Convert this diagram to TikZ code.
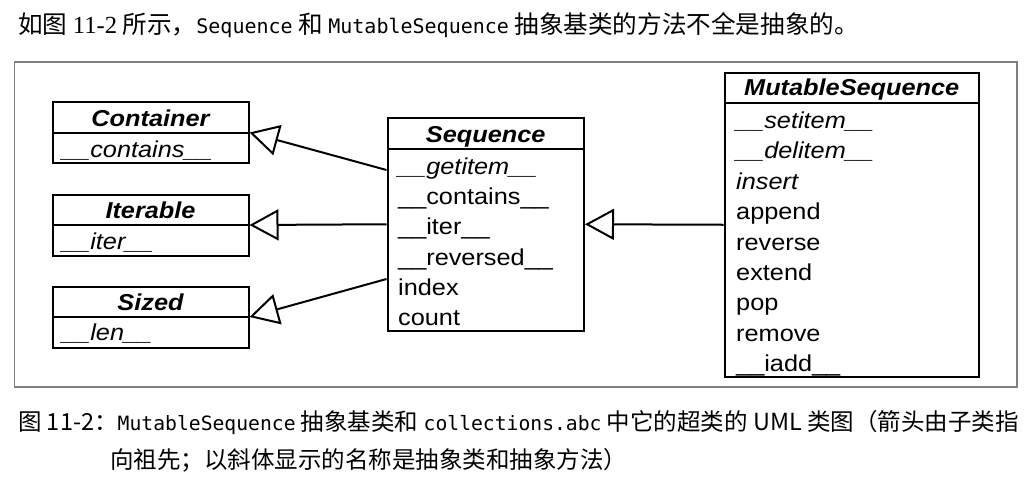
\documentclass[tikz,border=0pt]{standalone}
\usepackage{fontspec}
\setmainfont{Liberation Sans}
\newfontfamily\uml[FakeStretch=1.1]{Liberation Sans}
\newfontfamily\cjk{Noto Sans CJK SC}
\newfontfamily\cmono{DejaVu Sans Mono}
\newfontfamily\snum{Liberation Serif}
\usetikzlibrary{arrows.meta}
\tikzset{
  umlbox/.style={draw, line width=2pt, inner sep=0pt},
  divider/.style={line width=2pt},
  hdr/.style={anchor=base, inner sep=0pt, font=\uml\fontsize{23}{23}\selectfont\bfseries\itshape},
  mem/.style={anchor=base west, inner sep=0pt, font=\uml\fontsize{23}{23}\selectfont},
  amem/.style={mem, font=\uml\fontsize{23}{23}\selectfont\itshape},
  inh/.style={line width=2pt, -{Triangle[open, length=29pt, width=31pt]}},
  frame/.style={draw=black!50, line width=1.5pt},
  txt/.style={anchor=base west, inner sep=0pt, font=\cjk\fontsize{23.5}{23.5}\selectfont},
  toptxt/.style={anchor=base west, inner sep=0pt, font=\cjk\fontsize{24.6}{24.6}\selectfont},
}
\newcommand{\mono}[1]{{\cmono\fontsize{19.7}{19.7}\selectfont #1}}
\newcommand{\tmono}[1]{{\cmono\fontsize{20}{20}\selectfont #1}}
\begin{document}
\begin{tikzpicture}[x=1pt, y=-1pt]
\useasboundingbox (0,0) rectangle (1035,488);
% top line
\node[toptxt] (title) at (18,33) {如图 {\snum 11-2} 所示，\tmono{Sequence} 和 \tmono{MutableSequence} 抽象基类的方法不全是抽象的。};
% frame
\node[frame, inner sep=0pt, minimum width=1002.5pt, minimum height=325pt] (fig) at (515.75,224.5) {};
% Container
\node[umlbox, minimum width=196pt, minimum height=61pt] (container) at (150.5,132.5) {};
\draw[divider] (container.west) -- (container.east);
\node[hdr] (containerH) at (150.5,126) {Container};
\node[amem] (containerM) at (62,157.5) {\_\_contains\_\_};
% Iterable
\node[umlbox, minimum width=196pt, minimum height=61pt] (iterable) at (150.5,225) {};
\draw[divider] (iterable.west) -- (iterable.east);
\node[hdr] (iterableH) at (150.5,218.5) {Iterable};
\node[amem] (iterableM) at (62,249.5) {\_\_iter\_\_};
% Sized
\node[umlbox, minimum width=196pt, minimum height=61pt] (sized) at (150.5,317) {};
\draw[divider] (sized.west) -- (sized.east);
\node[hdr] (sizedH) at (150.5,310.5) {Sized};
\node[amem] (sizedM) at (62,340.5) {\_\_len\_\_};
% Sequence
\node[umlbox, minimum width=196.5pt, minimum height=213.5pt] (seq) at (485.75,224.25) {};
\draw[divider] (387.5,149) -- (584,149);
\node[hdr] (seqH) at (485.75,142.5) {Sequence};
\node[amem] (s1) at (398,174.5) {\_\_getitem\_\_};
\node[mem] (s2) at (398,204.7) {\_\_contains\_\_};
\node[mem] (s3) at (398,234.9) {\_\_iter\_\_};
\node[mem] (s4) at (398,265.1) {\_\_reversed\_\_};
\node[mem] (s5) at (398,295.3) {index};
\node[mem] (s6) at (398,325.5) {count};
% MutableSequence
\node[umlbox, minimum width=254.5pt, minimum height=304.5pt] (ms) at (851.75,224.75) {};
\draw[divider] (724.5,102.5) -- (979,102.5);
\node[hdr] (msH) at (851.75,95) {MutableSequence};
\node[amem] (m1) at (736,128.5) {\_\_setitem\_\_};
\node[amem] (m2) at (736,158.9) {\_\_delitem\_\_};
\node[amem] (m3) at (736,189.3) {insert};
\node[mem] (m4) at (736,219.7) {append};
\node[mem] (m5) at (736,250.1) {reverse};
\node[mem] (m6) at (736,280.5) {extend};
\node[mem] (m7) at (736,310.9) {pop};
\node[mem] (m8) at (736,341.3) {remove};
\node[mem] (m9) at (736,371.7) {\_\_iadd\_\_};
% connectors
\coordinate (seqA) at ([yshift=54.25pt]seq.west);
\coordinate (seqC) at ([yshift=-54.75pt]seq.west);
\draw[inh] (seqA) -- (container.east);
\draw[inh] (seq.west) -- (iterable.east);
\draw[inh] (seqC) -- (sized.east);
\draw[inh] (ms.west) -- (seq.east);
% caption
\node[txt] (cap1) at (18,430) {图 11-2：\mono{MutableSequence} 抽象基类和 \mono{collections.abc} 中它的超类的 UML 类图（箭头由子类指};
\node[txt] (cap2) at (110,468) {向祖先；以斜体显示的名称是抽象类和抽象方法）};
\end{tikzpicture}
\end{document}
